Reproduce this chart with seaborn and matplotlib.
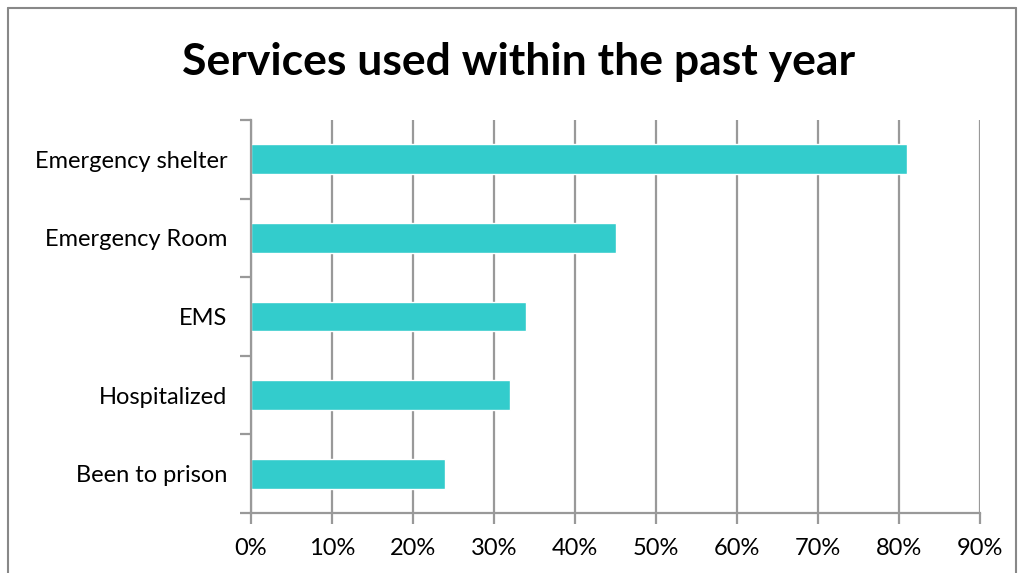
import matplotlib
matplotlib.use("Agg")
import matplotlib.pyplot as plt
import seaborn as sns
import pandas as pd
from matplotlib.lines import Line2D
from matplotlib.ticker import FixedLocator, PercentFormatter

services = ["Emergency shelter", "Emergency Room", "EMS", "Hospitalized", "Been to prison"]
shares = [81, 45, 34, 32, 24]
x_ticks = [0, 10, 20, 30, 40, 50, 60, 70, 80, 90]

df = pd.DataFrame({"service": services, "share": shares})

sns.set_style("white")
plt.rcParams["font.family"] = ["Lato", "DejaVu Sans"]
plt.rcParams["text.color"] = "black"
plt.rcParams["xtick.labelcolor"] = "black"
plt.rcParams["ytick.labelcolor"] = "black"

fig = plt.figure(figsize=(10.2, 5.73), dpi=100)
ax = fig.add_axes([0.246, 0.1047, 0.715, 0.686])

sns.barplot(data=df, x="share", y="service", orient="h", color="#33CCCC",
            saturation=1, width=0.38, ax=ax)

grid_col = "#999999"
ax.set_xlim(0, 90)
ax.set_ylim(4.5, -0.5)
ax.set_xticks(x_ticks)
ax.xaxis.set_major_formatter(PercentFormatter(decimals=0))
ax.xaxis.grid(True, color=grid_col, linewidth=1.6)
ax.set_axisbelow(True)

ax.set_yticks(range(len(services)))
ax.set_yticklabels(services)
ax.yaxis.set_minor_locator(FixedLocator([i - 0.5 for i in range(len(services) + 1)]))
ax.tick_params(axis="y", which="major", length=0, pad=17, labelsize=17)
ax.tick_params(axis="y", which="minor", length=8, width=1.6, color=grid_col, left=True)
ax.tick_params(axis="x", which="major", length=8, width=1.6, color=grid_col,
               bottom=True, labelsize=17, pad=10)

for side in ["top", "right"]:
    ax.spines[side].set_visible(False)
for side in ["left", "bottom"]:
    ax.spines[side].set_color(grid_col)
    ax.spines[side].set_linewidth(1.6)

ax.set_xlabel("")
ax.set_ylabel("")

fig.suptitle("Services used within the past year", fontsize=32, fontweight="bold",
             x=0.508, y=0.927, color="black")

# chart border
bc = "#888888"
fig.add_artist(Line2D([8 / 1020, 8 / 1020], [0, 1 - 8 / 573], color=bc, lw=1.5,
                      transform=fig.transFigure))
fig.add_artist(Line2D([8 / 1020, 1016 / 1020], [1 - 8 / 573, 1 - 8 / 573], color=bc,
                      lw=1.5, transform=fig.transFigure))
fig.add_artist(Line2D([1016 / 1020, 1016 / 1020], [0, 1 - 8 / 573], color=bc, lw=1.5,
                      transform=fig.transFigure))

fig.savefig("out.png", dpi=100)
